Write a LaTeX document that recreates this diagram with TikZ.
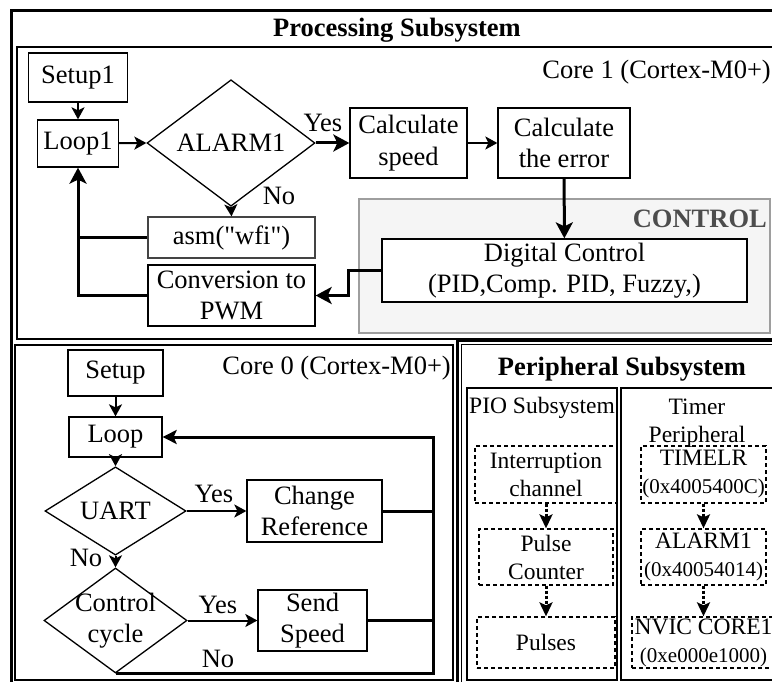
\documentclass[tikz,border=0pt]{standalone}
\usepackage{fontspec}
\setmainfont{Liberation Serif}[Ligatures=TeXOff]
\usetikzlibrary{arrows.meta,shapes.geometric}
\definecolor{ctrlfill}{HTML}{F5F5F5}
\definecolor{ctrlline}{HTML}{9E9E9E}
\definecolor{ctrltext}{HTML}{4D4D4D}
\definecolor{asmline}{HTML}{444444}
\newcommand\pfont{\fontsize{23.5}{28}\selectfont}
\newcommand\hexfont{\fontsize{21}{27}\selectfont}
\begin{document}
\begin{tikzpicture}[x=1pt,y=-1pt,
  font=\fontsize{26.5}{31.5}\selectfont,
  line join=miter,
  bx/.style={draw, line width=1.3pt, inner sep=0pt, align=center},
  dbx/.style={draw, line width=1.3pt, inner sep=0pt, align=center, dash pattern=on 4pt off 3pt, font=\pfont},
  dia/.style={draw, diamond, line width=1.3pt, inner sep=0pt, align=center},
  arrA/.style={line width=2pt, -{Stealth[length=12pt,width=13pt,inset=3pt]}},
  arrB/.style={line width=3pt, -{Stealth[length=16pt,width=17pt,inset=4pt]}},
  arrC/.style={line width=3pt, -{Stealth[length=14pt,width=14pt,inset=3pt]}},
  lineB/.style={line width=3pt},
  arrD/.style={line width=3pt, dash pattern=on 3pt off 2pt, -{Stealth[length=14pt,width=13pt,inset=3pt]}},
  lbl/.style={inner sep=0pt},
  frameA/.style={line width=3pt},
  frameB/.style={line width=1.3pt}
]
\useasboundingbox (0,0) rectangle (772,682);

% ---------- frames ----------
\draw[frameA] (11,11) rectangle (800,720);
\node[lbl, font=\fontsize{26.5}{29}\selectfont\bfseries] (ptitle) at (397,30) {Processing Subsystem};
\draw[frameB] (17,47) rectangle (776,339);
\draw[frameB] (15,345) rectangle (453,680);

% ---------- Core 1 ----------
\node[lbl, anchor=east] (core1) at (771,72) {Core 1 (Cortex-M0+)};
\node[draw=ctrlline, fill=ctrlfill, line width=1.3pt, minimum width=411pt, minimum height=134pt, inner sep=0pt] (ctrlbox) at (564.5,266) {};
\node[lbl, anchor=east, text=ctrltext, font=\fontsize{26.5}{29}\selectfont\bfseries] (ctrllbl) at (767,219) {CONTROL};

\node[bx, minimum width=99pt, minimum height=49pt] (setupA) at (78,77.5) {Setup1};
\node[bx, minimum width=81pt, minimum height=47pt] (loopA) at (78,143.5) {Loop1};
\node[dia, minimum width=168pt, minimum height=102pt] (alarm) at (231,143) {ALARM1};
\node[bx, draw=asmline, minimum width=167pt, minimum height=41pt] (asm) at (231.5,237.5) {asm("wfi")};
\node[bx, minimum width=167pt, minimum height=61pt] (conv) at (231.5,295.5) {Conversion to\\PWM};
\node[bx, minimum width=117pt, minimum height=70pt] (speed) at (408.5,143) {Calculate\\speed};
\node[bx, minimum width=132pt, minimum height=70pt] (err) at (564,143) {Calculate\\the error};
\node[bx, fill=white, minimum width=365pt, minimum height=63pt] (digital) at (564.5,270.5) {Digital Control\\(PID,Comp. PID, Fuzzy,)};

\node[lbl] (yesA) at (323,123) {Yes};
\node[lbl] (noA) at (279,196) {No};

\draw[arrA] (setupA) -- (loopA);
\draw[arrA] (loopA) -- (alarm.west);
\draw[arrB] (alarm.east) -- (speed.west);
\draw[arrA] (alarm.south) -- (asm.north);
\draw[arrA] (speed) -- (err);
\draw[arrB] (err) -- (digital);
\draw[arrB] (digital.west) -- ++(-33,0) |- (conv.east);
\draw[lineB] (asm.west) -- (asm.west -| loopA.south);
\draw[arrB] (conv.west) -- (conv.west -| loopA.south) -- (loopA.south);

% ---------- Core 0 ----------
\node[lbl, anchor=east] (core0) at (451,368) {Core 0 (Cortex-M0+)};
\node[bx, minimum width=95pt, minimum height=46pt] (setupB) at (115.5,373) {Setup};
\node[bx, minimum width=93pt, minimum height=40pt] (loopB) at (115.5,437) {Loop};
\node[dia, minimum width=141pt, minimum height=72pt] (uart) at (115.5,511) {UART};
\node[dia, minimum width=143pt, minimum height=105pt] (cc) at (115.5,620.5) {};
\node[lbl, align=center] (cctxt) at (115.5,620.5) {Control\\cycle};
\node[bx, minimum width=135pt, minimum height=62pt] (change) at (314.5,511) {Change\\Reference};
\node[bx, minimum width=109pt, minimum height=61pt] (send) at (312.5,620.5) {Send\\Speed};
\coordinate (rx) at (433,437);

\node[lbl] (yesB) at (214,494) {Yes};
\node[lbl] (noB) at (86,558) {No};
\node[lbl] (yesC) at (218,605) {Yes};
\node[lbl] (noC) at (218,659) {No};

\draw[arrA] (setupB) -- (loopB);
\draw[arrA] (loopB) -- (uart.north);
\draw[arrA] (uart.east) -- (change.west);
\draw[arrA] (uart.south) -- (cc.north);
\draw[arrA] (cc.east) -- (send.west);
\draw[lineB] (change.east) -- (change.east -| rx);
\draw[lineB] (send.east) -- (send.east -| rx);
\draw[arrC] (cc.south) -- (cc.south -| rx) -- (rx) -- (loopB.east);

% ---------- Peripheral ----------
\draw[frameA] (457.5,340) rectangle (800,720);
\draw[line width=1.5pt] (461.5,344.5) rectangle (800,720);
\node[lbl, font=\fontsize{26.5}{29}\selectfont\bfseries] (pertitle) at (622,369) {Peripheral Subsystem};
\node[draw, line width=1.3pt, minimum width=150pt, minimum height=292pt, inner sep=0pt] (pio) at (542,534) {};
\draw[frameB] (621,388) rectangle (800,680);
\node[lbl, font=\pfont] (piolbl) at (542,408) {PIO Subsystem};
\node[lbl, font=\pfont, align=center] (timerlbl) at (697,423) {Timer\\Peripheral};

\node[dbx, minimum width=142pt, minimum height=57pt] (int) at (546,474.5) {Interruption\\channel};
\node[dbx, minimum width=134pt, minimum height=56pt] (pulse) at (546,557) {Pulse\\Counter};
\node[dbx, minimum width=138pt, minimum height=51pt] (pulses) at (546,642.5) {Pulses};
\node[dbx, minimum width=125pt, minimum height=57pt] (timelr) at (703.5,474.5) {TIMELR\\{\hexfont(0x4005400C)}};
\node[dbx, minimum width=125pt, minimum height=56pt] (alarmB) at (703.5,557) {ALARM1\\{\hexfont(0x40054014)}};
\node[dbx, minimum width=143pt, minimum height=51pt] (nvic) at (703.5,642.5) {NVIC CORE1\\{\hexfont(0xe000e1000)}};

\draw[arrD] (int) -- (pulse);
\draw[arrD] (pulse) -- (pulses);
\draw[arrD] (timelr) -- (alarmB);
\draw[arrD] (alarmB) -- (nvic);
\end{tikzpicture}
\end{document}
